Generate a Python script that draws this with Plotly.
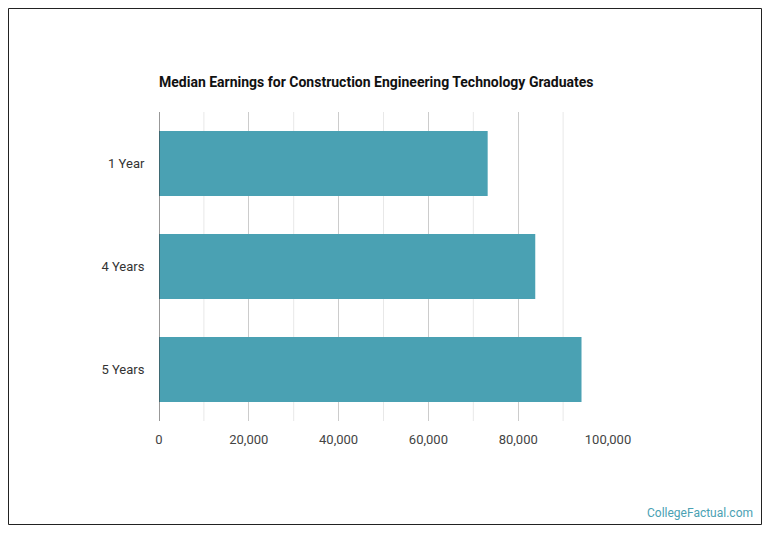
import plotly.graph_objects as go

categories = ["1 Year", "4 Years", "5 Years"]
earnings = [73200, 83800, 94100]
tick_vals = [0, 20000, 40000, 60000, 80000, 100000]
tick_text = ["0", "20,000", "40,000", "60,000", "80,000", "100,000"]

OFF = 8  # page body margin
W, H = 756, 520
# screen-space plot box
SX0, SX1, SY0, SY1 = 159, 608, 112, 421
L = SX0 - OFF
R = W - (SX1 - OFF)
T = SY0 - OFF
B = H - (SY1 - OFF)
pw, ph = W - L - R, H - T - B

def px(sx):
    return (sx - OFF - L) / pw

def py(sy):
    return (H - B - (sy - OFF)) / ph

fig = go.Figure()
fig.add_trace(go.Bar(
    y=categories, x=earnings, orientation="h",
    marker=dict(color="#4aa1b3", line=dict(width=0)),
    hoverinfo="x+y",
))

shapes = []
for v in range(10000, 100001, 20000):
    shapes.append(dict(type="line", xref="x", yref="paper", x0=v, x1=v, y0=0, y1=1,
                       line=dict(color="#e8e8e8", width=1), layer="below"))
shapes.append(dict(type="rect", xref="paper", yref="paper",
                   x0=px(8.5), x1=px(761.5), y0=py(524.5), y1=py(8.5),
                   line=dict(color="#222222", width=1)))
shapes.append(dict(type="line", xref="x", yref="paper", x0=0, x1=0, y0=0, y1=1,
                   line=dict(color="#333333", width=1)))

fig.update_layout(
    width=W, height=H,
    margin=dict(l=L, r=R, t=T, b=B),
    paper_bgcolor="white", plot_bgcolor="white",
    bargap=0.37,
    showlegend=False,
    font=dict(family="Roboto", size=13, color="#444444"),
    title=dict(text="<b>Median Earnings for Construction Engineering Technology Graduates</b>",
               xref="container", yref="container",
               x=(159 - OFF) / W, xanchor="left", y=1 - (82 - OFF) / H, yanchor="middle",
               font=dict(family="Roboto", size=14, color="#111111")),
    xaxis=dict(range=[0, 100000], tickvals=tick_vals, ticktext=tick_text,
               showgrid=True, gridcolor="#cccccc", gridwidth=1,
               zeroline=False, showline=False, ticks="outside", ticklen=6,
               tickcolor="rgba(0,0,0,0)",
               tickfont=dict(size=13, color="#444444")),
    yaxis=dict(autorange="reversed", showgrid=False, zeroline=False,
               showline=False, ticks="outside", ticklen=11, tickcolor="rgba(0,0,0,0)",
               tickfont=dict(size=13, color="#333333")),
    shapes=shapes,
    annotations=[dict(text="CollegeFactual.com", xref="paper", yref="paper",
                      x=px(755), y=py(513), xanchor="right", yanchor="middle",
                      showarrow=False, font=dict(family="Roboto", size=12, color="#4aa1b3"))],
)

fig.write_html("out.html")
